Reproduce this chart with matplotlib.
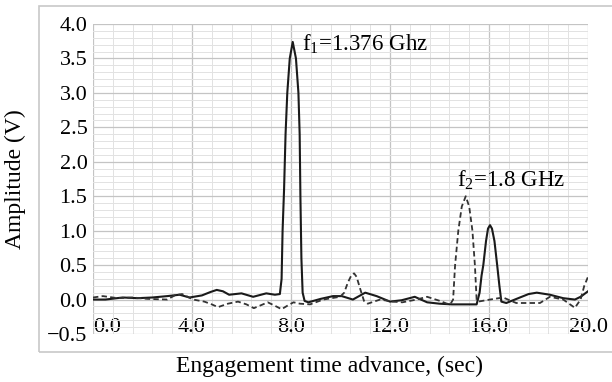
import matplotlib.pyplot as plt
from matplotlib.patches import Rectangle
from matplotlib.ticker import MultipleLocator

plt.rcParams['font.family'] = ['Liberation Serif', 'DejaVu Serif']

# solid trace (f1 / f2 response)
solid_t = [0.0, 0.5, 1.2, 1.8, 2.4, 3.0, 3.5, 3.9, 4.4, 4.75, 5.0, 5.25, 5.5, 6.0, 6.47,
           7.0, 7.35, 7.55, 7.62, 7.66, 7.72, 7.78, 7.85, 7.95, 8.07, 8.2, 8.3, 8.35,
           8.38, 8.42, 8.47, 8.55, 8.7, 9.2, 9.7, 10.05, 10.5, 10.75, 11.0, 11.46, 12.0,
           12.47, 13.0, 13.5, 14.0, 14.5, 15.0, 15.5, 15.62, 15.7, 15.77, 15.88, 15.96,
           16.04, 16.12, 16.22, 16.33, 16.42, 16.5, 16.7, 17.25, 17.6, 17.93, 18.46,
           19.0, 19.47, 19.7, 20.0]
solid_v = [0.0, 0.0, 0.03, 0.02, 0.03, 0.05, 0.07, 0.03, 0.06, 0.11, 0.14, 0.12, 0.07, 0.09, 0.04,
           0.09, 0.07, 0.08, 0.3, 1.0, 1.6, 2.4, 3.0, 3.5, 3.74, 3.5, 3.0, 2.4,
           1.5, 0.6, 0.1, -0.02, -0.04, 0.01, 0.05, 0.05, 0.0, 0.05, 0.1, 0.05, -0.03,
           -0.01, 0.04, -0.04, -0.06, -0.07, -0.07, -0.07, 0.1, 0.35, 0.5, 0.85, 1.03,
           1.08, 1.03, 0.85, 0.5, 0.2, -0.03, -0.05, 0.03, 0.08, 0.1, 0.07,
           0.02, 0.0, 0.04, 0.12]

# dashed trace
dash_t = [0.0, 0.4, 1.0, 1.6, 2.2, 3.0, 3.3, 3.6, 4.05, 4.5, 4.8, 5.05, 5.45, 5.86, 6.2,
          6.5, 6.8, 7.06, 7.35, 7.62, 7.85, 8.1, 8.36, 8.77, 9.3, 9.98, 10.15, 10.3,
          10.45, 10.55, 10.65, 10.8, 10.95, 11.1, 11.6, 12.12, 12.5, 13.07, 13.5, 14.02,
          14.3, 14.45, 14.55, 14.63, 14.76, 14.9, 15.06, 15.2, 15.33, 15.43, 15.5, 15.56,
          16.04, 16.57, 17.1, 18.06, 18.46, 19.0, 19.47, 19.7, 19.85, 20.0]
dash_v = [0.03, 0.05, 0.02, 0.03, 0.01, 0.0, 0.06, 0.08, 0.0, -0.03, -0.07, -0.11, -0.06, -0.03, -0.07,
          -0.125, -0.08, -0.04, -0.09, -0.14, -0.09, -0.04, -0.06, -0.07, 0.0, 0.04, 0.1, 0.25,
          0.36, 0.38, 0.33, 0.15, -0.02, -0.06, 0.0, -0.03, -0.04, 0.0, 0.04, -0.02,
          -0.06, -0.06, 0.0, 0.5, 1.0, 1.35, 1.5, 1.35, 1.0, 0.5, 0.0, -0.03,
          0.0, 0.03, -0.05, -0.05, 0.04, 0.0, -0.12, 0.0, 0.2, 0.33]

x_ticks = [0, 4, 8, 12, 16, 20]
y_ticks = [-0.5, 0.0, 0.5, 1.0, 1.5, 2.0, 2.5, 3.0, 3.5, 4.0]

fig = plt.figure(figsize=(6.12, 3.82), dpi=100)
ax = fig.add_axes([93 / 612, 1 - 334 / 382, 495 / 612, 310 / 382])

# outer frame of the chart
fig.patches.append(Rectangle((39 / 612, 1 - 352 / 382), 1.0, 346 / 382,
                             transform=fig.transFigure, fill=False,
                             edgecolor='#c8c8c8', linewidth=1.2, zorder=0))

ax.plot(solid_t, solid_v, color='#1a1a1a', linewidth=1.5, zorder=3)
ax.plot(dash_t, dash_v, color='#333333', linewidth=1.3, linestyle=(0, (3, 1.8)), zorder=3)

ax.set_xlim(0, 20)
ax.set_ylim(-0.5, 4.0)
ax.set_xticks(x_ticks)
ax.set_xticklabels([f'{v:.1f}' for v in x_ticks])
ax.set_yticks(y_ticks)
ax.set_yticklabels([f'{v:.1f}'.replace('-', '\u2212') for v in y_ticks])
ax.xaxis.set_minor_locator(MultipleLocator(0.8))
ax.yaxis.set_minor_locator(MultipleLocator(0.1))

ax.grid(True, which='major', color='#c4c4c4', linewidth=0.9)
ax.grid(True, which='minor', color='#e2e2e2', linewidth=0.7)
ax.set_axisbelow(True)

for side in ['top', 'right', 'left']:
    ax.spines[side].set_visible(False)
ax.spines['bottom'].set_position(('data', 0))
ax.spines['bottom'].set_visible(False)

ax.tick_params(axis='both', which='both', length=0, labelsize=16)
ax.tick_params(axis='x', pad=13)
ax.tick_params(axis='y', pad=4)

# first x label sits to the right of its tick, clear of the y labels
ax.get_xticklabels()[0].set_horizontalalignment('left')

ax.text(8.45, 3.71, 'f$_\\mathregular{1}$=1.376 Ghz', fontsize=16.5, va='center', ha='left')
ax.text(14.72, 1.73, 'f$_\\mathregular{2}$=1.8 GHz', fontsize=16.5, va='center', ha='left')

fig.text(15 / 612, 1 - 179 / 382, 'Amplitude (V)', rotation=90, fontsize=17,
         ha='center', va='center')
fig.text(329 / 612, 1 - 366 / 382, 'Engagement time advance, (sec)', fontsize=17,
         ha='center', va='center')

fig.savefig('out.png', dpi=100)
